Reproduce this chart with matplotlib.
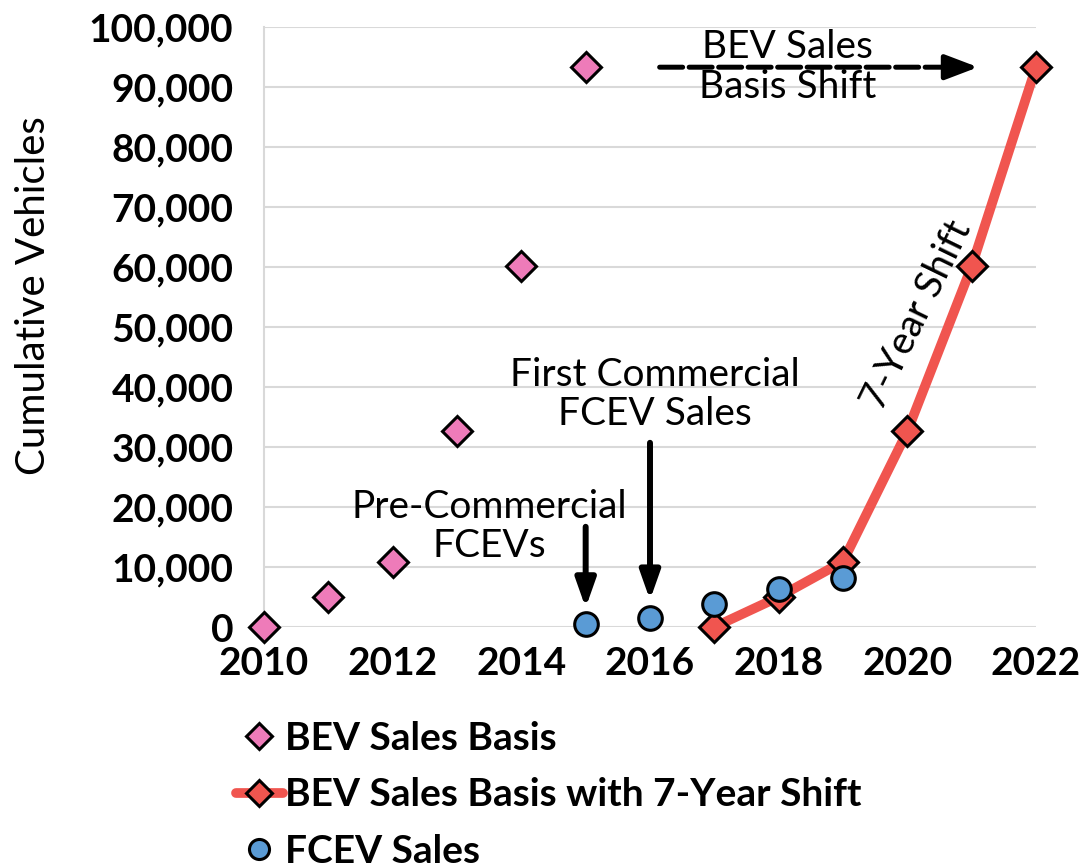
import matplotlib.pyplot as plt
from matplotlib.ticker import FuncFormatter

plt.rcParams['font.family'] = ['Lato', 'DejaVu Sans']

bev_years = [2010, 2011, 2012, 2013, 2014, 2015]
bev_values = [0, 5000, 10900, 32600, 60100, 93300]
shift_years = [2017, 2018, 2019, 2020, 2021, 2022]
shift_values = bev_values
fcev_years = [2015, 2016, 2017, 2018, 2019]
fcev_values = [500, 1500, 3900, 6300, 8100]

PINK = '#EE7BB9'
RED = '#F0554F'
BLUE = '#5A9BD5'

fig = plt.figure(figsize=(10.83, 8.67), dpi=100)
ax = fig.add_axes([264 / 1083, 1 - 627 / 867, 772 / 1083, 600 / 867])

ax.plot(shift_years, shift_values, color=RED, lw=7, solid_capstyle='round',
        marker='D', ms=15, mfc=RED, mec='black', mew=2.2, zorder=3,
        label='BEV Sales Basis with 7-Year Shift')
ax.plot(bev_years, bev_values, ls='none', marker='D', ms=15, mfc=PINK,
        mec='black', mew=2.2, zorder=3, label='BEV Sales Basis')
ax.plot(fcev_years, fcev_values, ls='none', marker='o', ms=17, mfc=BLUE,
        mec='black', mew=2.2, zorder=4, label='FCEV Sales')

ax.set_xlim(2010, 2022)
ax.set_ylim(0, 100000)
ax.set_xticks(range(2010, 2023, 2))
ax.set_yticks(range(0, 100001, 10000))
ax.yaxis.set_major_formatter(FuncFormatter(lambda v, p: f'{int(v):,}'))
ax.tick_params(length=0, labelsize=28)
ax.tick_params(axis='y', pad=22)
ax.tick_params(axis='x', pad=14)
for lab in ax.get_xticklabels() + ax.get_yticklabels():
    lab.set_fontweight('bold')
ax.grid(axis='y', color='#d9d9d9', lw=1.5)
ax.set_axisbelow(True)
for s in ['top', 'right', 'bottom']:
    ax.spines[s].set_visible(False)
ax.spines['left'].set_color('#d9d9d9')
ax.spines['left'].set_linewidth(1.5)
for c in ax.get_children():
    c.set_clip_on(False)

ax.set_ylabel('Cumulative Vehicles', fontsize=29)
ax.yaxis.set_label_coords(-0.275, 0.552)

# annotations
ax.text(2018.14, 93300, 'BEV Sales\nBasis Shift', ha='center', va='center',
        fontsize=28, linespacing=1.15)
# dashed shaft, then a solid head
ax.annotate('', xy=(2020.7, 93300), xytext=(2016.15, 93300),
            arrowprops=dict(arrowstyle='-', shrinkA=0, shrinkB=0,
                            color='black', lw=3.6, ls=(0, (4.6, 1.3))))
ax.annotate('', xy=(2021.1, 93300), xytext=(2020.6, 93300),
            arrowprops=dict(arrowstyle='-|>,head_length=1.0,head_width=0.38',
                            mutation_scale=20, shrinkA=0, shrinkB=0,
                            color='black', lw=3.6))
ax.text(2020.15, 52000, '7-Year Shift', rotation=64, ha='center', va='center',
        fontsize=28)
ax.text(2016.07, 38700, 'First Commercial\nFCEV Sales', ha='center', va='center',
        fontsize=28, linespacing=1.1)
ax.annotate('', xy=(2016, 4500), xytext=(2016, 30700),
            arrowprops=dict(arrowstyle='-|>,head_length=0.85,head_width=0.3',
                            mutation_scale=20, shrinkA=0, shrinkB=0,
                            color='black', lw=4.3))
ax.text(2013.5, 16700, 'Pre-Commercial\nFCEVs', ha='center', va='center',
        fontsize=28, linespacing=1.1)
ax.annotate('', xy=(2015, 3200), xytext=(2015, 16700),
            arrowprops=dict(arrowstyle='-|>,head_length=0.85,head_width=0.3',
                            mutation_scale=20, shrinkA=0, shrinkB=0,
                            color='black', lw=4.3))

handles, labels = ax.get_legend_handles_labels()
order = [1, 0, 2]
leg = fig.legend([handles[i] for i in order], [labels[i] for i in order],
                 loc='upper left', bbox_to_anchor=(236 / 1083, 1 - 721 / 867),
                 frameon=False, prop={'weight': 'bold', 'size': 28},
                 borderaxespad=0, borderpad=0,
                 handlelength=1.2, handletextpad=0.05, labelspacing=0.55,
                 markerscale=0.85)

fig.savefig('out.png', dpi=100)
